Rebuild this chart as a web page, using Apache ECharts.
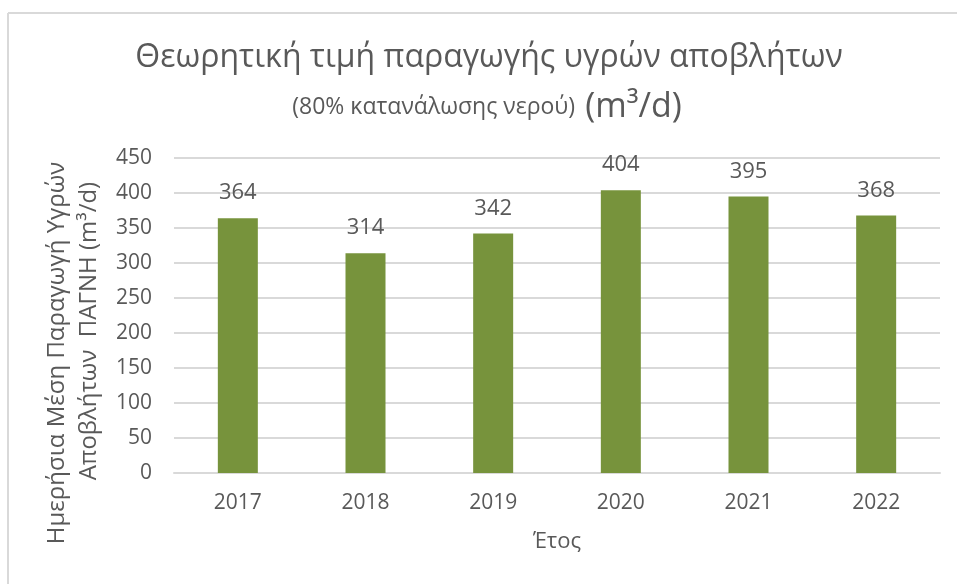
<!DOCTYPE html>
<html>
<head>
<meta charset="utf-8">
<script src="https://cdn.jsdelivr.net/npm/echarts@6/dist/echarts.min.js"></script>
<style>
  html, body { margin: 0; padding: 0; background: #fff; }
  #container { width: 957px; height: 584px; }
</style>
</head>
<body>
<div id="container"></div>
<script>
var years = ['2017', '2018', '2019', '2020', '2021', '2022'];
var values = [364, 314, 342, 404, 395, 368];
var yTicks = { min: 0, max: 450, interval: 50 };

var titleLine1 = 'Θεωρητική τιμή παραγωγής υγρών αποβλήτων';
var titleSmall = '(80% κατανάλωσης νερού)';
var titleUnit = '(m³/d)';
var yName1 = 'Ημερήσια Μέση Παραγωγή Υγρών';
var yName2 = 'Αποβλήτων  ΠΑΓΝΗ (m³/d)';
var xName = 'Έτος';

var font = '"Open Sans", "Noto Sans", sans-serif';
var grey = '#595959';

var myChart = echarts.init(document.getElementById('container'));
var option = {
    animation: false,
    backgroundColor: '#fff',
    graphic: [
        { type: 'line', shape: { x1: 8, y1: 13, x2: 957, y2: 13 }, style: { stroke: '#d9d9d9', lineWidth: 2 } },
        { type: 'line', shape: { x1: 8, y1: 13, x2: 8, y2: 584 }, style: { stroke: '#d9d9d9', lineWidth: 2 } },
        {
            type: 'text', x: 489, y: 58,
            style: {
                text: titleLine1, fontFamily: font, fontSize: 32, fill: grey,
                textAlign: 'center', textVerticalAlign: 'middle'
            }
        },
        {
            type: 'text', x: 487, y: 107,
            style: {
                text: '{s|' + titleSmall + '}{b|' + titleUnit + '}',
                textAlign: 'center', textVerticalAlign: 'middle',
                rich: {
                    s: { fontFamily: font, fontSize: 23, fill: grey, lineHeight: 44 },
                    b: { fontFamily: font, fontSize: 34, fill: grey, lineHeight: 44, padding: [0, 0, 0, 10] }
                }
            }
        }
    ],
    grid: { left: 174, right: 17, top: 158, bottom: 111 },
    xAxis: {
        type: 'category',
        data: years,
        name: xName,
        nameLocation: 'middle',
        nameGap: 58,
        nameTextStyle: { fontFamily: font, fontSize: 22, color: grey },
        axisLine: { lineStyle: { color: '#d9d9d9', width: 2 } },
        axisTick: { show: false },
        axisLabel: { fontFamily: font, fontSize: 21, color: grey, margin: 20 }
    },
    yAxis: {
        type: 'value',
        min: yTicks.min,
        max: yTicks.max,
        interval: yTicks.interval,
        name: yName1 + '            \n' + yName2 + '     ',
        nameLocation: 'middle',
        nameRotate: 90,
        nameGap: 68,
        nameTextStyle: { fontFamily: font, fontSize: 24, color: grey, lineHeight: 32 },
        axisLine: { show: false },
        axisTick: { show: false },
        axisLabel: { fontFamily: font, fontSize: 21, color: grey, margin: 22 },
        splitLine: { lineStyle: { color: '#d9d9d9', width: 2 } }
    },
    series: [{
        type: 'bar',
        data: values,
        barWidth: 40,
        itemStyle: { color: '#77933c' },
        label: {
            show: true,
            position: 'top',
            distance: 14,
            fontFamily: font,
            fontSize: 22,
            color: grey
        }
    }]
};
myChart.setOption(option);
</script>
</body>
</html>
